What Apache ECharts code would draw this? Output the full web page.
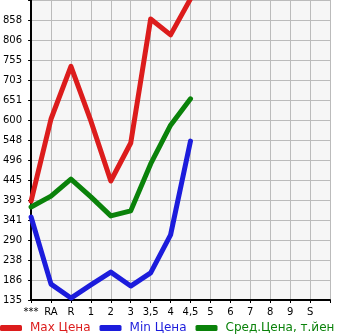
<!DOCTYPE html>
<html><head><meta charset="utf-8">
<script src="https://cdn.jsdelivr.net/npm/echarts@6/dist/echarts.min.js"></script>
<style>html,body{margin:0;padding:0;background:#fff}#c{width:345px;height:335px}</style>
</head><body><div id="c"></div>
<script>
const categories = ["***","RA","R","1","2","3","3,5","4","4,5","5","6","7","8","9","S",""];
const maxPrice = [390, 602, 738, 597, 442, 540, 860, 819, 912, null, null, null, null, null, null, null];
const minPrice = [349, 176, 140, 174, 207, 171, 205, 303, 545, null, null, null, null, null, null, null];
const avgPrice = [375, 403, 447, 401, 352, 365, 486, 586, 654, null, null, null, null, null, null, null];
const yTickLabels = ["135","186","238","290","341","393","445","496","548","600","651","703","755","806","858",""];
const seriesNames = ["Max Цена","Min Цена","Сред.Цена, т.йен"];
const colors = ["#dc1c1c","#1c1cdc","#0a820a"];
const yMin = 135, yStep = 51.6, yMax = 909;

const chart = echarts.init(document.getElementById('c'), null, {renderer:'canvas'});
const font = "DejaVu Sans";
chart.setOption({
  animation:false,
  textStyle:{fontFamily:font},
  grid:{left:30, top:0, right:15, bottom:35, show:true, backgroundColor:'#f6f6f6', borderWidth:0},
  legend:{
    left:0, top:322, padding:0, itemWidth:22, itemHeight:6, itemGap:9, icon:'roundRect',
    textStyle:{fontFamily:font, fontSize:12, padding:[0,0,0,3]},
    data: seriesNames.map((n,i)=>({name:n, textStyle:{color:colors[i]}}))
  },
  xAxis:{
    type:'category', data:categories, boundaryGap:false,
    axisLine:{lineStyle:{color:'#000', width:2}},
    axisTick:{show:true, length:3, lineStyle:{color:'#000'}},
    axisLabel:{color:'#000', fontSize:10, margin:7, interval:0, fontFamily:font},
    splitLine:{show:true, lineStyle:{color:'#bbb', width:1}}
  },
  yAxis:{
    type:'value', min:yMin, max:yMax, interval:yStep,
    axisLine:{show:true, lineStyle:{color:'#000', width:2}},
    axisTick:{show:true, length:3, lineStyle:{color:'#000'}},
    axisLabel:{color:'#000', fontSize:10, margin:9, fontFamily:font, padding:[0,0,6,0],
      formatter:(v)=>{const i=Math.round((v-yMin)/yStep); return yTickLabels[i]||'';}},
    splitLine:{show:true, lineStyle:{color:'#bbb', width:1}}
  },
  series:[maxPrice,minPrice,avgPrice].map((d,i)=>({
    name:seriesNames[i], type:'line', data:d, showSymbol:false, symbol:'none',
    lineStyle:{color:colors[i], width:5, cap:'round', join:'round'},
    itemStyle:{color:colors[i]}, clip:true
  }))
});
</script></body></html>
